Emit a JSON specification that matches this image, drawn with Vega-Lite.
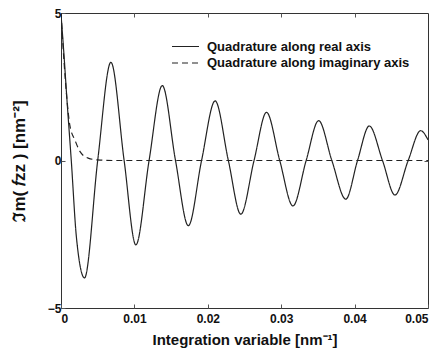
{
  "$schema": "https://vega.github.io/schema/vega-lite/v6.json",
  "autosize": {"type": "none"},
  "padding": {"left": 61, "top": 13, "right": 16, "bottom": 49},
  "width": 367,
  "height": 295,
  "background": "white",
  "config": {
    "font": "Liberation Sans",
    "view": {"stroke": "#333", "strokeWidth": 1},
    "axis": {"labelFont": "Liberation Sans", "titleFont": "Liberation Sans", "labelColor": "#111", "titleColor": "#111", "grid": false, "domain": false, "tickColor": "#555", "tickSize": -4, "labelFontSize": 12, "labelFontWeight": "bold", "titleFontSize": 15, "titleFontWeight": "bold"}
  },
  "datasets": {
    "curves": [
      {"x": 0, "y": 4.95, "s": "Quadrature along real axis"},
      {"x": 0.0004, "y": 3.6, "s": "Quadrature along real axis"},
      {"x": 0.0008, "y": 2.1, "s": "Quadrature along real axis"},
      {"x": 0.0014, "y": 0, "s": "Quadrature along real axis"},
      {"x": 0.0021, "y": -2.6, "s": "Quadrature along real axis"},
      {"x": 0.0032, "y": -3.98, "s": "Quadrature along real axis"},
      {"x": 0.005, "y": 0, "s": "Quadrature along real axis"},
      {"x": 0.0068, "y": 3.33, "s": "Quadrature along real axis"},
      {"x": 0.0086, "y": 0, "s": "Quadrature along real axis"},
      {"x": 0.0102, "y": -2.86, "s": "Quadrature along real axis"},
      {"x": 0.012, "y": 0, "s": "Quadrature along real axis"},
      {"x": 0.0138, "y": 2.54, "s": "Quadrature along real axis"},
      {"x": 0.0156, "y": 0, "s": "Quadrature along real axis"},
      {"x": 0.01735, "y": -2.21, "s": "Quadrature along real axis"},
      {"x": 0.01915, "y": 0, "s": "Quadrature along real axis"},
      {"x": 0.021, "y": 2.02, "s": "Quadrature along real axis"},
      {"x": 0.0228, "y": 0, "s": "Quadrature along real axis"},
      {"x": 0.0245, "y": -1.82, "s": "Quadrature along real axis"},
      {"x": 0.0263, "y": 0, "s": "Quadrature along real axis"},
      {"x": 0.028, "y": 1.63, "s": "Quadrature along real axis"},
      {"x": 0.0298, "y": 0, "s": "Quadrature along real axis"},
      {"x": 0.0316, "y": -1.54, "s": "Quadrature along real axis"},
      {"x": 0.0334, "y": 0, "s": "Quadrature along real axis"},
      {"x": 0.0351, "y": 1.35, "s": "Quadrature along real axis"},
      {"x": 0.0369, "y": 0, "s": "Quadrature along real axis"},
      {"x": 0.0388, "y": -1.31, "s": "Quadrature along real axis"},
      {"x": 0.0404, "y": 0, "s": "Quadrature along real axis"},
      {"x": 0.042, "y": 1.17, "s": "Quadrature along real axis"},
      {"x": 0.0438, "y": 0, "s": "Quadrature along real axis"},
      {"x": 0.0455, "y": -1.17, "s": "Quadrature along real axis"},
      {"x": 0.0473, "y": 0, "s": "Quadrature along real axis"},
      {"x": 0.049, "y": 1.01, "s": "Quadrature along real axis"},
      {"x": 0.05, "y": 0.7, "s": "Quadrature along real axis"},
      {"x": 0, "y": 5, "s": "Quadrature along imaginary axis"},
      {"x": 0.0004, "y": 3.4, "s": "Quadrature along imaginary axis"},
      {"x": 0.0008, "y": 2.1, "s": "Quadrature along imaginary axis"},
      {"x": 0.0012, "y": 1.2, "s": "Quadrature along imaginary axis"},
      {"x": 0.0019, "y": 0.69, "s": "Quadrature along imaginary axis"},
      {"x": 0.0026, "y": 0.3, "s": "Quadrature along imaginary axis"},
      {"x": 0.0037, "y": 0.08, "s": "Quadrature along imaginary axis"},
      {"x": 0.005, "y": 0.02, "s": "Quadrature along imaginary axis"},
      {"x": 0.007, "y": 0, "s": "Quadrature along imaginary axis"},
      {"x": 0.05, "y": 0, "s": "Quadrature along imaginary axis"}
    ]
  },
  "data": {"name": "curves"},
  "layer": [
    {
      "mark": {"type": "line", "interpolate": "monotone", "strokeWidth": 1.2, "color": "#222", "clip": true},
      "encoding": {
        "x": {"field": "x", "type": "quantitative", "scale": {"domain": [0, 0.05], "nice": false}, "axis": {"values": [0, 0.01, 0.02, 0.03, 0.04, 0.05], "format": ".2~f", "title": "Integration variable [nm⁻¹]", "labelPadding": 9, "titlePadding": 8}},
        "y": {"field": "y", "type": "quantitative", "scale": {"domain": [-5, 5], "nice": false}, "axis": {"values": [-5, 0, 5], "title": "ℑm( 𝑓zz ) [nm⁻²]", "titleFontSize": 17, "labelPadding": 4, "titlePadding": 19}},
        "strokeDash": {"field": "s", "type": "nominal", "scale": {"domain": ["Quadrature along real axis", "Quadrature along imaginary axis"], "range": [[1, 0], [6, 4]]}, "legend": {"title": null, "orient": "none", "legendX": 118, "legendY": 27, "symbolType": "M-3,0H3", "symbolSize": 81, "symbolStrokeWidth": 1.2, "symbolStrokeColor": "#222", "symbolFillColor": "transparent", "labelFontSize": 13, "labelFontWeight": "bold", "labelFont": "Liberation Sans", "labelColor": "#111", "labelOffset": 15, "labelLimit": 400, "rowPadding": 2.5, "padding": 0}}
      }
    },
    {
      "mark": {"type": "line", "opacity": 0},
      "encoding": {
        "x": {"field": "x", "type": "quantitative", "scale": {"domain": [0, 0.05], "nice": false}, "axis": {"orient": "top", "values": [0.01, 0.02, 0.03, 0.04], "labels": false, "title": null}},
        "y": {"field": "y", "type": "quantitative", "scale": {"domain": [-5, 5], "nice": false}, "axis": {"orient": "right", "values": [0], "labels": false, "title": null}}
      }
    }
  ],
  "resolve": {"axis": {"x": "independent", "y": "independent"}}
}
